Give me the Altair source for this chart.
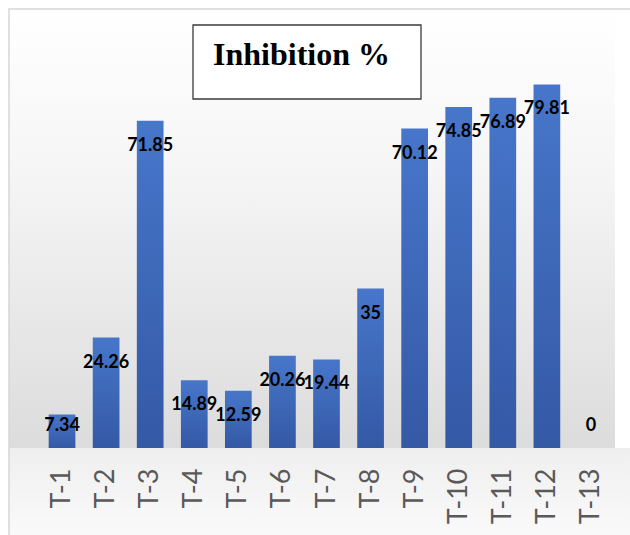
import altair as alt
import pandas as pd

categories = ["T-1", "T-2", "T-3", "T-4", "T-5", "T-6", "T-7", "T-8", "T-9", "T-10", "T-11", "T-12", "T-13"]
values = [7.34, 24.26, 71.85, 14.89, 12.59, 20.26, 19.44, 35, 70.12, 74.85, 76.89, 79.81, 0]
title_text = "Inhibition %"

df = pd.DataFrame({"cat": categories, "value": values})

W, H = 573, 410
one = alt.Data(values=[{}])

bg_low = alt.Chart(one).mark_rect(
    fill=alt.Gradient(gradient="linear", x1=0, x2=0, y1=0, y2=1,
                      stops=[alt.GradientStop(offset=0, color="#efefef"),
                             alt.GradientStop(offset=1, color="#fbfbfb")]),
    strokeWidth=0,
).encode(x=alt.value(-31), x2=alt.value(600), y=alt.value(H), y2=alt.value(H + 100))

bg_up = alt.Chart(one).mark_rect(
    fill=alt.Gradient(gradient="linear", x1=0, x2=0, y1=0, y2=1,
                      stops=[alt.GradientStop(offset=0, color="#ffffff"),
                             alt.GradientStop(offset=0.35, color="#f6f6f6"),
                             alt.GradientStop(offset=1, color="#dcdcdc")]),
    strokeWidth=0,
).encode(x=alt.value(-31), x2=alt.value(575), y=alt.value(-29), y2=alt.value(H))

border = alt.Chart(one).mark_rect(
    fillOpacity=0, stroke="#d6d6d6", strokeWidth=1.5
).encode(x=alt.value(-31), x2=alt.value(600), y=alt.value(-29), y2=alt.value(H + 100))

x_enc = alt.X("cat:N", sort=categories, title=None,
              scale=alt.Scale(paddingInner=0.394, paddingOuter=0.197),
              axis=alt.Axis(labelAngle=-90, labelFont="Lato", labelFontSize=27,
                            labelColor="#595959", ticks=False, domain=False,
                            labelPadding=20, grid=False, zindex=1))
y_scale = alt.Scale(domain=[0, 90], nice=False)

bars = alt.Chart(df).mark_bar(
    fill=alt.Gradient(gradient="linear", x1=0, x2=0, y1=0, y2=1,
                      stops=[alt.GradientStop(offset=0, color="#4776ca"),
                             alt.GradientStop(offset=1, color="#3459a5")]),
).encode(x=x_enc, y=alt.Y("value:Q", scale=y_scale, axis=None))

labels = alt.Chart(df).transform_calculate(
    ly="max(datum.value - 5.5, 4.85)"
).mark_text(font="Lato", fontWeight="bold", fontSize=18, color="#000000",
            align="center", baseline="middle").encode(
    x=alt.X("cat:N", sort=categories),
    y=alt.Y("ly:Q", scale=y_scale, axis=None),
    text=alt.Text("value:N"),
)

title_box = alt.Chart(one).mark_rect(
    fill="#ffffff", stroke="#3a3a3a", strokeWidth=1.3
).encode(x=alt.value(153), x2=alt.value(381), y=alt.value(-13), y2=alt.value(61))

title = alt.Chart(one).mark_text(
    font="Liberation Serif", fontWeight="bold", fontSize=32, color="#000000",
    align="center", baseline="alphabetic"
).encode(x=alt.value(261.5), y=alt.value(27), text=alt.value(title_text))

chart = alt.layer(bg_low, bg_up, border, bars, labels, title_box, title).properties(
    width=W, height=H,
    padding={"left": 40, "top": 38, "right": 17, "bottom": 87},
    autosize=alt.AutoSizeParams(type="none"),
    background="#ffffff",
).configure_view(stroke=None)

chart.save("out.html", embed_options={"renderer": "svg", "actions": False})
